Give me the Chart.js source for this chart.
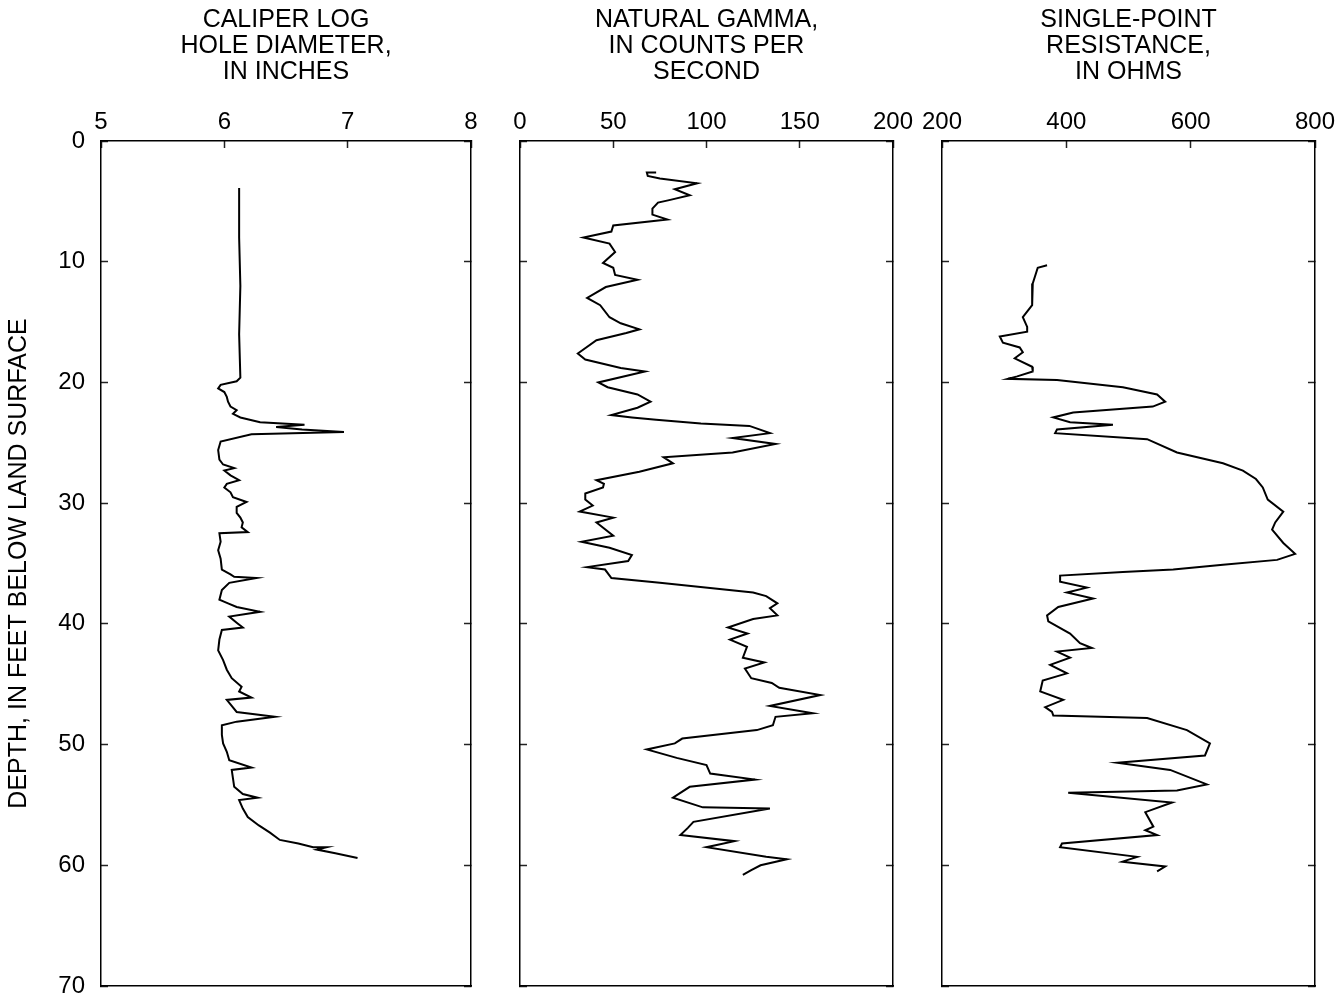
<!DOCTYPE html>
<html>
<head>
<meta charset="utf-8">
<script src="https://cdn.jsdelivr.net/npm/chart.js@4/dist/chart.umd.min.js"></script>
<style>
    body { margin: 0; background: #fff; }
    #wrap { position: relative; width: 1338px; height: 1003px; }
    canvas { position: absolute; top: 0; }
</style>
</head>
<body>
<div id="wrap">
    <canvas id="caliper" width="480" height="1003" style="left:0px"></canvas>
    <canvas id="gamma" width="440" height="1003" style="left:480px"></canvas>
    <canvas id="resist" width="438" height="1003" style="left:900px"></canvas>
</div>
<script>
// depth axis (feet below land surface)
const depthTicks = [0, 10, 20, 30, 40, 50, 60, 70];

// caliper log, hole diameter in inches
const caliperDepth = [3.9, 8.0, 12.0, 16.0, 19.6, 19.9, 20.2, 20.5, 20.8, 21.2, 21.6, 22.0, 22.3, 22.6, 22.9, 23.3, 23.5, 23.7, 23.9, 24.1,
    24.3, 24.9, 25.6, 26.4, 26.8, 27.1, 27.3, 27.7, 28.1, 28.4, 28.7, 29.1, 29.5, 29.9, 30.3, 30.8, 31.2, 31.6, 32.0, 32.4,
    32.5, 33.2, 33.9, 34.6, 35.5, 35.9, 36.1, 36.2, 36.6, 37.2, 38.0, 38.3, 38.6, 39.0, 39.4, 39.9, 40.3, 40.5, 41.3, 42.2,
    43.0, 43.8, 44.5, 45.2, 45.6, 46.1, 46.3, 46.8, 47.3, 47.7, 48.1, 48.4, 49.2, 49.9, 50.6, 51.3, 51.9, 52.1, 52.8, 53.5,
    54.1, 54.4, 54.6, 55.3, 56.0, 56.7, 57.3, 57.9, 58.2, 58.5, 58.5, 58.7, 59.0, 59.4];
const caliperDiameter = [6.12, 6.12, 6.13, 6.12, 6.13, 6.10, 5.97, 5.95, 6.00, 6.02, 6.03, 6.05, 6.10, 6.07, 6.13, 6.29, 6.65, 6.42, 6.63, 6.97,
    6.22, 5.97, 5.95, 5.96, 5.99, 6.08, 6.00, 6.05, 6.12, 6.02, 6.00, 6.05, 6.07, 6.18, 6.10, 6.10, 6.13, 6.15, 6.14, 6.19,
    5.96, 5.97, 5.95, 5.97, 5.98, 6.05, 6.08, 6.26, 6.04, 5.98, 5.96, 6.03, 6.10, 6.29, 6.04, 6.10, 6.15, 5.98, 5.96, 5.95,
    5.99, 6.02, 6.06, 6.14, 6.12, 6.22, 6.02, 6.06, 6.10, 6.41, 6.10, 5.98, 5.98, 5.99, 6.02, 6.04, 6.22, 6.06, 6.07, 6.08,
    6.15, 6.27, 6.12, 6.15, 6.19, 6.28, 6.37, 6.45, 6.60, 6.72, 6.83, 6.75, 6.90, 7.08];

// natural gamma, counts per second
const gammaDepth = [2.6, 2.6, 2.9, 3.1, 3.5, 4.0, 4.5, 4.9, 5.1, 5.6, 6.1, 6.5, 7.0, 7.5, 8.0, 8.5, 9.2, 10.1, 10.5, 11.1,
    11.5, 12.1, 13.0, 13.6, 14.6, 15.1, 15.6, 15.9, 16.5, 17.6, 18.1, 18.8, 19.1, 20.0, 20.4, 21.0, 21.6, 22.1, 22.7, 22.9,
    23.1, 23.4, 23.6, 24.2, 24.6, 25.1, 25.8, 26.2, 26.5, 26.7, 27.4, 28.1, 28.4, 28.7, 29.2, 29.7, 30.2, 30.7, 31.2, 31.6,
    32.7, 33.2, 33.7, 34.3, 34.8, 35.3, 35.5, 36.2, 36.6, 37.4, 37.7, 38.3, 38.7, 39.3, 39.6, 40.3, 40.8, 41.3, 41.9, 42.8,
    43.2, 43.7, 44.5, 44.9, 45.3, 45.9, 46.8, 47.4, 47.7, 48.4, 48.8, 49.5, 49.9, 50.4, 51.1, 51.7, 52.4, 52.9, 53.5, 54.4,
    55.2, 55.3, 56.4, 56.9, 57.5, 58.0, 58.5, 59.3, 59.5, 60.0, 60.4, 60.8];
const gammaCps = [73, 68, 68.5, 75, 95, 83, 91, 80, 74, 71, 71, 79, 50, 49, 34, 48, 51, 44.5, 50, 51,
    63, 46, 36, 43, 48, 54, 64, 57, 41, 31, 35, 54, 67, 42, 47, 63, 70, 63, 49, 60,
    73, 97, 123, 134, 114, 137, 114, 77, 80, 82, 64, 41, 45, 44.5, 35, 35, 39, 32, 50, 41,
    50, 33, 48, 60, 58, 36, 45.6, 49, 75, 125, 132, 138, 134, 138, 125, 111.5, 122, 112.6, 121.7, 119.5,
    131, 120.6, 124, 135, 139, 161, 134, 157, 137, 135.6, 127, 87, 83, 68, 84, 100, 102, 126, 91, 82,
    98, 134, 93, 90, 86, 115, 100, 132, 143, 129, 124, 119.5];

// single-point resistance, ohms
const resDepth = [10.3, 10.5, 11.8, 13.6, 14.6, 15.4, 15.8, 16.2, 16.7, 17.1, 17.5, 18.0, 18.7, 19.1, 19.5, 19.7, 19.8, 20.4, 21.0, 21.6,
    22.0, 22.5, 22.9, 23.3, 23.5, 23.9, 24.2, 24.7, 25.8, 26.7, 27.3, 28.0, 28.7, 29.7, 30.7, 31.6, 32.2, 33.3, 34.2, 34.7,
    35.1, 35.5, 35.7, 36.0, 36.5, 37.0, 37.4, 37.9, 38.6, 39.3, 39.8, 40.8, 41.6, 42.0, 42.3, 42.8, 43.4, 44.1, 44.7, 45.6,
    46.3, 46.9, 47.3, 47.6, 47.8, 48.8, 49.9, 50.9, 51.5, 52.1, 53.3, 53.8, 54.0, 54.8, 55.6, 56.8, 57.1, 57.5, 58.2, 58.5,
    59.3, 59.7, 60.1, 60.5];
const resOhms = [369, 354, 346, 345, 330, 337, 337, 293, 298, 325, 330, 317, 345, 346, 321, 306, 385, 491, 546, 559,
    539, 411, 379, 406, 475, 385, 382, 530, 578, 652, 684, 705, 716, 724, 749, 736, 731, 749, 768, 739,
    652, 572, 491, 390, 390, 433, 401, 443, 387, 369, 371, 406, 422, 441, 385, 406, 374, 401, 362, 358,
    395, 366, 377, 379, 530, 594, 631, 623, 482, 567, 626, 578, 403, 570, 527, 540, 527, 546, 393, 390,
    514, 490, 559, 546];

const FONT = '"Liberation Sans", Arial, Helvetica, sans-serif';
const TOP = 141;      // top edge of the log tracks
const BOTTOM = 986;   // bottom edge of the log tracks
const TITLE_H = 85;

function pairs(depths, values) {
    return depths.map((d, i) => ({ x: values[i], y: d }));
}

// keep chart.js from shrinking the track to make room for edge labels
function noPad(s) {
    s.paddingLeft = 0;
    s.paddingRight = 0;
    s.paddingTop = 0;
    s.paddingBottom = 0;
}

function makeLog(id, opts) {
    const ctx = document.getElementById(id).getContext('2d');
    const canvasH = ctx.canvas.height;
    return new Chart(ctx, {
        type: 'scatter',
        data: {
            datasets: [{
                data: pairs(opts.depth, opts.values),
                showLine: true,
                borderColor: '#000',
                borderWidth: 2,
                pointRadius: 0,
                pointHoverRadius: 0,
                tension: 0,
                fill: false,
            }],
        },
        options: {
            responsive: false,
            animation: false,
            devicePixelRatio: 1,
            events: [],
            layout: { padding: { left: 0, right: opts.padRight, top: 0, bottom: canvasH - BOTTOM } },
            plugins: {
                legend: { display: false },
                tooltip: { enabled: false },
                title: {
                    display: true,
                    fullSize: false,
                    text: opts.title,
                    color: '#000',
                    font: { family: FONT, size: 25, weight: 'normal', lineHeight: '26px' },
                    padding: { top: 7, bottom: 0 },
                },
            },
            scales: {
                x: {
                    type: 'linear',
                    position: 'top',
                    min: opts.min,
                    max: opts.max,
                    afterBuildTicks: s => { s.ticks = opts.ticks.map(v => ({ value: v })); },
                    ticks: {
                        autoSkip: false,
                        maxRotation: 0,
                        color: '#000',
                        padding: 14,
                        font: { family: FONT, size: 24, lineHeight: 1 },
                    },
                    grid: { drawOnChartArea: false, tickLength: -7, tickColor: '#222', tickWidth: 1.5 },
                    border: { display: true, color: '#000', width: 1.5 },
                    afterFit: s => { s.height = TOP - TITLE_H; noPad(s); },
                },
                x2: {
                    type: 'linear',
                    position: 'bottom',
                    min: opts.min,
                    max: opts.max,
                    ticks: { display: false },
                    grid: { drawOnChartArea: false, drawTicks: false },
                    border: { display: true, color: '#000', width: 1.5 },
                    afterFit: s => { s.height = 0; noPad(s); },
                },
                y: {
                    type: 'linear',
                    position: 'left',
                    reverse: true,
                    min: 0,
                    max: 70,
                    afterBuildTicks: s => { s.ticks = depthTicks.map(v => ({ value: v })); },
                    title: {
                        display: opts.showDepth,
                        text: 'DEPTH, IN FEET BELOW LAND SURFACE',
                        color: '#000',
                        font: { family: FONT, size: 25, lineHeight: 1.2 },
                        padding: { top: 4, bottom: 0 },
                    },
                    ticks: {
                        display: opts.showDepth,
                        autoSkip: false,
                        color: '#000',
                        padding: 23,
                        font: { family: FONT, size: 24 },
                    },
                    grid: { drawOnChartArea: false, tickLength: -7, tickColor: '#222', tickWidth: 1.5 },
                    border: { display: true, color: '#000', width: 1.5 },
                    afterFit: s => { s.width = opts.axisLeft; noPad(s); },
                },
                y2: {
                    type: 'linear',
                    position: 'right',
                    reverse: true,
                    min: 0,
                    max: 70,
                    afterBuildTicks: s => { s.ticks = depthTicks.map(v => ({ value: v })); },
                    ticks: { display: false },
                    grid: { drawOnChartArea: false, tickLength: -7, tickColor: '#222', tickWidth: 1.5 },
                    border: { display: true, color: '#000', width: 1.5 },
                    afterFit: s => { s.width = 0; noPad(s); },
                },
            },
        },
    });
}

window.onload = function () {
    makeLog('caliper', {
        title: ['CALIPER LOG', 'HOLE DIAMETER,', 'IN INCHES'],
        depth: caliperDepth, values: caliperDiameter,
        min: 5, max: 8, ticks: [5, 6, 7, 8],
        axisLeft: 101, padRight: 9, showDepth: true,
    });
    makeLog('gamma', {
        title: ['NATURAL GAMMA,', 'IN COUNTS PER', 'SECOND'],
        depth: gammaDepth, values: gammaCps,
        min: 0, max: 200, ticks: [0, 50, 100, 150, 200],
        axisLeft: 40, padRight: 27, showDepth: false,
    });
    makeLog('resist', {
        title: ['SINGLE-POINT', 'RESISTANCE,', 'IN OHMS'],
        depth: resDepth, values: resOhms,
        min: 200, max: 800, ticks: [200, 400, 600, 800],
        axisLeft: 42, padRight: 23, showDepth: false,
    });
};
</script>
</body>
</html>
